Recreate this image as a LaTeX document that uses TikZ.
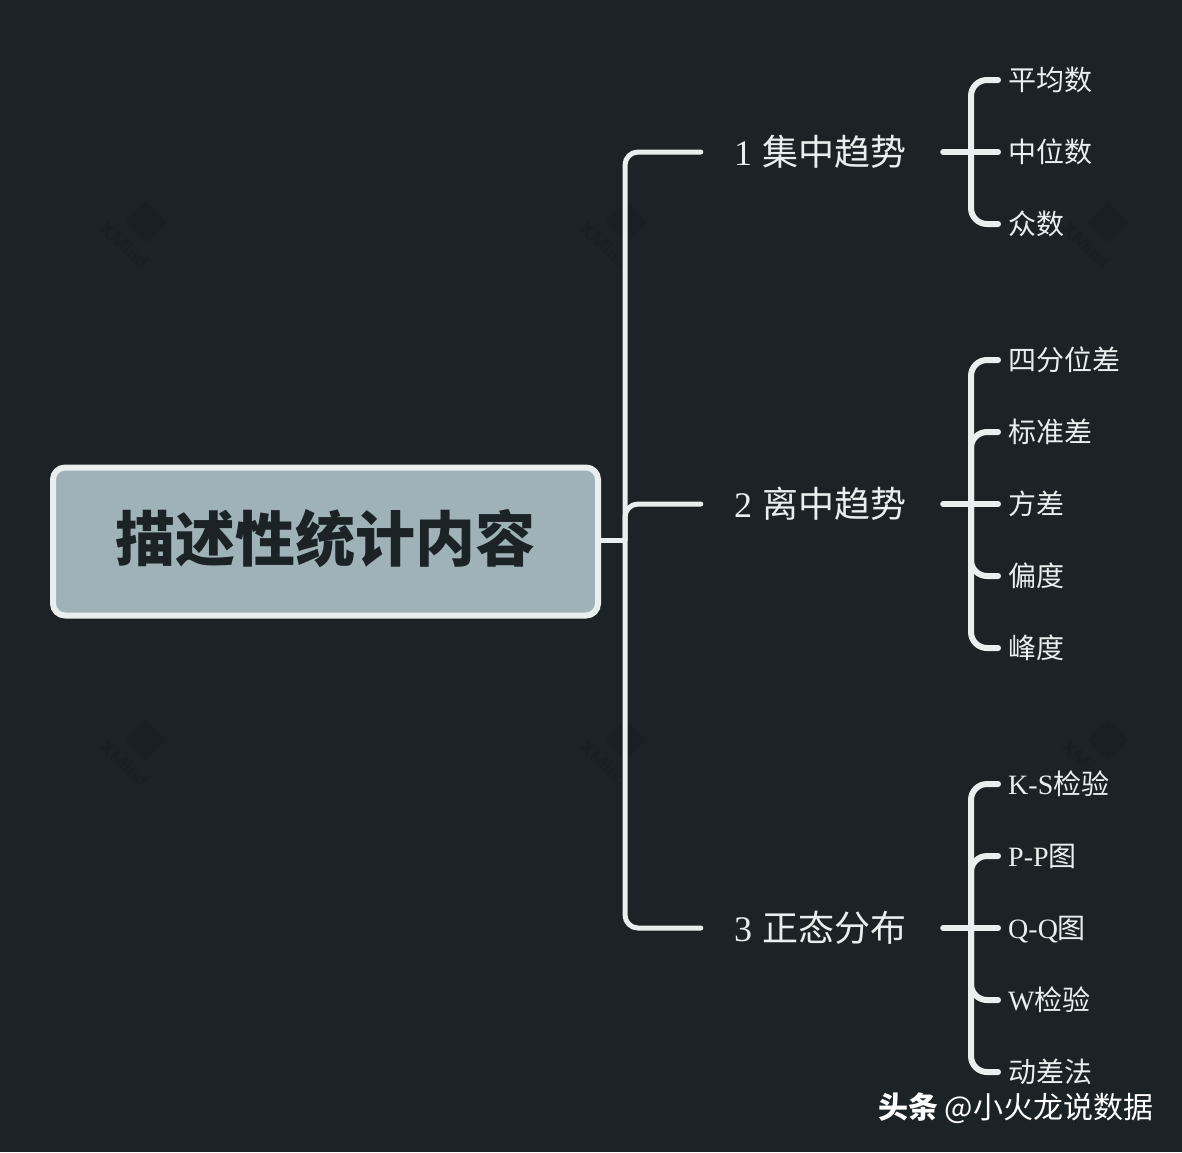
\documentclass[tikz,border=0pt]{standalone}
\usepackage{fontspec}
\setmainfont{Liberation Serif}
\newfontfamily\cjk{Noto Sans CJK SC}
\definecolor{bgdark}{HTML}{1C2326}
\definecolor{linelight}{HTML}{E9EEEE}
\definecolor{rootfill}{HTML}{9FB2B7}
\definecolor{markdark}{HTML}{182023}
\begin{document}
\begin{tikzpicture}[
    x=1pt, y=-1pt,
    rootbox/.style={
      draw=linelight, fill=rootfill, line width=6pt,
      rounded corners=12pt,
      minimum width=545pt, minimum height=148pt,
      text height=52pt, text depth=13pt,
      text=bgdark, font=\fontsize{60}{60}\cjk\bfseries
    },
    branch/.style={
      text=linelight, inner sep=0pt,
      minimum width=241pt, minimum height=40pt,
      font=\fontsize{36}{36}\selectfont
    },
    leaf/.style={
      text=linelight, inner sep=0pt, anchor=west,
      text height=26pt, text depth=5pt,
      font=\fontsize{28}{28}\selectfont
    },
    link/.style={draw=linelight, line width=5pt, line cap=round},
    trunk/.style={link, rounded corners=13pt},
    twig/.style={link, line width=6pt, rounded corners=16pt},
    logomark/.style={fill=markdark, rotate=45, minimum size=29pt, inner sep=0pt, rounded corners=2pt},
    logotext/.style={text=markdark, rotate=-42, inner sep=0pt, font=\fontsize{19}{19}\sffamily\bfseries}
  ]

% --- Background ---
    \fill[bgdark] (0,0) rectangle (1182,1152);
    \useasboundingbox (0,0) rectangle (1182,1152);

% --- Faint marks ---
    \foreach \px/\py in {146/222, 626/222, 1108/222, 146/740, 626/740, 1108/740} {
      \node[logomark] (m\px\py) at (\px,\py) {};
      \node[logotext] (t\px\py) at (\px-22,\py+23) {XMind};
    }

% --- Root ---
    \node[rootbox] (root) at (325.5,541.5) {描述性统计内容};

% --- Branches ---
    \node[branch] (b1) at (820,152) {1\hspace{1pt} {\cjk 集中趋势}};
    \node[branch] (b2) at (820,504) {2\hspace{1pt} {\cjk 离中趋势}};
    \node[branch] (b3) at (820,928) {3\hspace{1pt} {\cjk 正态分布}};

% --- Joints on the vertical lines ---
    \coordinate (main) at (625,540);
    \coordinate (j1) at (971,152);
    \coordinate (j2) at (971,504);
    \coordinate (j3) at (971,928);

% --- Leaves of branch 1 ---
    \node[leaf] (a1) at (1008,80) {\cjk 平均数};
    \node[leaf] (a2) at (1008,152) {\cjk 中位数};
    \node[leaf] (a3) at (1008,224) {\cjk 众数};

% --- Leaves of branch 2 ---
    \node[leaf] (c1) at (1008,360) {\cjk 四分位差};
    \node[leaf] (c2) at (1008,432) {\cjk 标准差};
    \node[leaf] (c3) at (1008,504) {\cjk 方差};
    \node[leaf] (c4) at (1008,576) {\cjk 偏度};
    \node[leaf] (c5) at (1008,648) {\cjk 峰度};

% --- Leaves of branch 3 ---
    \node[leaf] (d1) at (1008,784) {K-S{\cjk 检验}};
    \node[leaf] (d2) at (1008,856) {P-P{\cjk 图}};
    \node[leaf] (d3) at (1008,928) {Q-Q{\cjk 图}};
    \node[leaf] (d4) at (1008,1000) {W{\cjk 检验}};
    \node[leaf] (d5) at (1008,1072) {\cjk 动差法};

% --- Root to branches ---
    \draw[link, line cap=butt] (root.east |- main) -- (main);
    \draw[trunk] (main) |- ([xshift=1.5pt]b1.west);
    \draw[trunk] (main) |- ([xshift=1.5pt]b2.west);
    \draw[trunk] (main) |- ([xshift=1.5pt]b3.west);

% --- Branches to leaves ---
    \draw[twig] ([xshift=2.5pt]b1.east) -- ([xshift=-10pt]a2.west);
    \draw[twig] (j1) |- ([xshift=-10pt]a1.west);
    \draw[twig] (j1) |- ([xshift=-10pt]a3.west);

    \draw[twig] ([xshift=2.5pt]b2.east) -- ([xshift=-10pt]c3.west);
    \draw[twig] (j2) |- ([xshift=-10pt]c1.west);
    \draw[twig] (j2) |- ([xshift=-10pt]c2.west);
    \draw[twig] (j2) |- ([xshift=-10pt]c4.west);
    \draw[twig] (j2) |- ([xshift=-10pt]c5.west);

    \draw[twig] ([xshift=2.5pt]b3.east) -- ([xshift=-10pt]d3.west);
    \draw[twig] (j3) |- ([xshift=-10pt]d1.west);
    \draw[twig] (j3) |- ([xshift=-10pt]d2.west);
    \draw[twig] (j3) |- ([xshift=-10pt]d4.west);
    \draw[twig] (j3) |- ([xshift=-10pt]d5.west);

% --- Credit line ---
    \node[text=white, inner sep=0pt, anchor=west, font=\fontsize{30}{31}\cjk] (credit) at (878,1108) {{\bfseries 头条} @小火龙说数据};

  \end{tikzpicture}
\end{document}
